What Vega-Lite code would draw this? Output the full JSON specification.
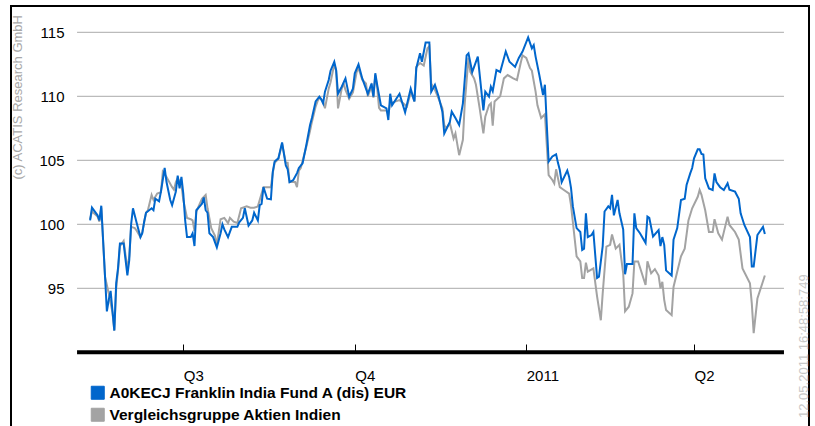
{
  "$schema": "https://vega.github.io/schema/vega-lite/v6.json",
  "width": 798,
  "height": 421,
  "autosize": "none",
  "padding": {"left": 11, "top": 6, "right": 6, "bottom": 0},
  "background": "white",
  "config": {"font": "Liberation Sans", "view": {"stroke": "#000000", "strokeWidth": 2}},
  "datasets": {
    "grid": [{"v": 95}, {"v": 100}, {"v": 105}, {"v": 110}, {"v": 115}],
    "fund": [
      {"date": "2010-05-12", "value": 100.3}, {"date": "2010-05-13", "value": 101.3}, {"date": "2010-05-16", "value": 100.7}, {"date": "2010-05-17", "value": 100.3}, {"date": "2010-05-18", "value": 101.45},
      {"date": "2010-05-21", "value": 93.2}, {"date": "2010-05-22", "value": 94.1}, {"date": "2010-05-23", "value": 94.8}, {"date": "2010-05-25", "value": 91.7}, {"date": "2010-05-26", "value": 95.4},
      {"date": "2010-05-27", "value": 96.6}, {"date": "2010-05-28", "value": 98.5}, {"date": "2010-05-30", "value": 98.5}, {"date": "2010-06-01", "value": 96.0}, {"date": "2010-06-02", "value": 97.2},
      {"date": "2010-06-03", "value": 100.0}, {"date": "2010-06-04", "value": 101.25}, {"date": "2010-06-06", "value": 100.1}, {"date": "2010-06-08", "value": 99.0}, {"date": "2010-06-09", "value": 99.3},
      {"date": "2010-06-10", "value": 100.2}, {"date": "2010-06-11", "value": 100.9}, {"date": "2010-06-14", "value": 101.25}, {"date": "2010-06-15", "value": 101.1}, {"date": "2010-06-16", "value": 102.0},
      {"date": "2010-06-18", "value": 101.8}, {"date": "2010-06-19", "value": 102.55}, {"date": "2010-06-21", "value": 104.4}, {"date": "2010-06-22", "value": 103.3}, {"date": "2010-06-24", "value": 101.9},
      {"date": "2010-06-25", "value": 101.5}, {"date": "2010-06-27", "value": 102.55}, {"date": "2010-06-28", "value": 103.8}, {"date": "2010-06-29", "value": 102.8}, {"date": "2010-06-30", "value": 103.7},
      {"date": "2010-07-01", "value": 102.4}, {"date": "2010-07-02", "value": 100.3}, {"date": "2010-07-03", "value": 99.0}, {"date": "2010-07-05", "value": 99.0}, {"date": "2010-07-06", "value": 99.3},
      {"date": "2010-07-07", "value": 98.3}, {"date": "2010-07-08", "value": 101.1}, {"date": "2010-07-11", "value": 101.6}, {"date": "2010-07-12", "value": 102.1}, {"date": "2010-07-13", "value": 101.1},
      {"date": "2010-07-14", "value": 100.9}, {"date": "2010-07-15", "value": 99.3}, {"date": "2010-07-17", "value": 99.0}, {"date": "2010-07-19", "value": 98.2}, {"date": "2010-07-21", "value": 99.3},
      {"date": "2010-07-22", "value": 100.0}, {"date": "2010-07-23", "value": 99.6}, {"date": "2010-07-25", "value": 99.0}, {"date": "2010-07-27", "value": 99.8}, {"date": "2010-07-30", "value": 99.8},
      {"date": "2010-07-31", "value": 100.15}, {"date": "2010-08-02", "value": 100.5}, {"date": "2010-08-03", "value": 101.25}, {"date": "2010-08-05", "value": 99.9}, {"date": "2010-08-07", "value": 100.3},
      {"date": "2010-08-08", "value": 100.9}, {"date": "2010-08-10", "value": 100.3}, {"date": "2010-08-11", "value": 101.5}, {"date": "2010-08-12", "value": 101.6}, {"date": "2010-08-13", "value": 102.9},
      {"date": "2010-08-15", "value": 102.0}, {"date": "2010-08-17", "value": 101.95}, {"date": "2010-08-18", "value": 104.1}, {"date": "2010-08-19", "value": 104.9}, {"date": "2010-08-21", "value": 105.15},
      {"date": "2010-08-23", "value": 106.4}, {"date": "2010-08-25", "value": 104.6}, {"date": "2010-08-26", "value": 104.3}, {"date": "2010-08-27", "value": 103.3}, {"date": "2010-08-29", "value": 103.46},
      {"date": "2010-08-31", "value": 104.0}, {"date": "2010-09-01", "value": 104.4}, {"date": "2010-09-03", "value": 104.77}, {"date": "2010-09-05", "value": 106.2}, {"date": "2010-09-07", "value": 107.76},
      {"date": "2010-09-08", "value": 108.3}, {"date": "2010-09-10", "value": 109.6}, {"date": "2010-09-12", "value": 109.97}, {"date": "2010-09-13", "value": 109.77}, {"date": "2010-09-14", "value": 109.45},
      {"date": "2010-09-15", "value": 110.36}, {"date": "2010-09-17", "value": 111.27}, {"date": "2010-09-18", "value": 112.0}, {"date": "2010-09-20", "value": 112.7}, {"date": "2010-09-21", "value": 112.05},
      {"date": "2010-09-22", "value": 110.2}, {"date": "2010-09-24", "value": 110.75}, {"date": "2010-09-26", "value": 111.4}, {"date": "2010-09-28", "value": 109.97}, {"date": "2010-09-30", "value": 110.6},
      {"date": "2010-10-01", "value": 111.8}, {"date": "2010-10-03", "value": 112.5}, {"date": "2010-10-05", "value": 111.4}, {"date": "2010-10-08", "value": 110.2}, {"date": "2010-10-10", "value": 111.0},
      {"date": "2010-10-11", "value": 109.97}, {"date": "2010-10-12", "value": 111.8}, {"date": "2010-10-13", "value": 110.9}, {"date": "2010-10-15", "value": 109.3}, {"date": "2010-10-18", "value": 109.06},
      {"date": "2010-10-19", "value": 108.15}, {"date": "2010-10-20", "value": 110.2}, {"date": "2010-10-21", "value": 109.3}, {"date": "2010-10-25", "value": 110.2}, {"date": "2010-10-28", "value": 108.75},
      {"date": "2010-10-31", "value": 110.6}, {"date": "2010-11-02", "value": 109.6}, {"date": "2010-11-03", "value": 112.2}, {"date": "2010-11-05", "value": 113.36}, {"date": "2010-11-06", "value": 112.7},
      {"date": "2010-11-08", "value": 114.2}, {"date": "2010-11-10", "value": 114.2}, {"date": "2010-11-11", "value": 110.36}, {"date": "2010-11-13", "value": 110.9}, {"date": "2010-11-15", "value": 109.97},
      {"date": "2010-11-17", "value": 108.8}, {"date": "2010-11-18", "value": 107.1}, {"date": "2010-11-21", "value": 108.0}, {"date": "2010-11-22", "value": 108.8}, {"date": "2010-11-24", "value": 108.3},
      {"date": "2010-11-26", "value": 107.76}, {"date": "2010-11-28", "value": 109.45}, {"date": "2010-11-30", "value": 113.2}, {"date": "2010-12-01", "value": 113.36}, {"date": "2010-12-03", "value": 111.9},
      {"date": "2010-12-06", "value": 113.1}, {"date": "2010-12-09", "value": 108.9}, {"date": "2010-12-10", "value": 110.36}, {"date": "2010-12-12", "value": 109.97}, {"date": "2010-12-13", "value": 110.75},
      {"date": "2010-12-14", "value": 110.4}, {"date": "2010-12-16", "value": 112.05}, {"date": "2010-12-18", "value": 111.9}, {"date": "2010-12-21", "value": 113.5}, {"date": "2010-12-23", "value": 112.7},
      {"date": "2010-12-26", "value": 112.3}, {"date": "2010-12-28", "value": 113.0}, {"date": "2010-12-30", "value": 113.5}, {"date": "2011-01-02", "value": 114.6}, {"date": "2011-01-04", "value": 113.75},
      {"date": "2011-01-05", "value": 114.0}, {"date": "2011-01-06", "value": 113.1}, {"date": "2011-01-08", "value": 111.66}, {"date": "2011-01-10", "value": 110.1}, {"date": "2011-01-11", "value": 110.9},
      {"date": "2011-01-12", "value": 107.8}, {"date": "2011-01-13", "value": 104.9}, {"date": "2011-01-15", "value": 105.3}, {"date": "2011-01-17", "value": 105.47}, {"date": "2011-01-18", "value": 104.8},
      {"date": "2011-01-19", "value": 104.24}, {"date": "2011-01-20", "value": 103.3}, {"date": "2011-01-23", "value": 104.2}, {"date": "2011-01-24", "value": 103.7}, {"date": "2011-01-25", "value": 102.85},
      {"date": "2011-01-26", "value": 101.4}, {"date": "2011-01-28", "value": 99.7}, {"date": "2011-01-30", "value": 99.4}, {"date": "2011-01-31", "value": 98.0}, {"date": "2011-02-01", "value": 98.1},
      {"date": "2011-02-02", "value": 100.86}, {"date": "2011-02-03", "value": 99.0}, {"date": "2011-02-05", "value": 99.16}, {"date": "2011-02-06", "value": 99.4}, {"date": "2011-02-08", "value": 95.8},
      {"date": "2011-02-09", "value": 95.9}, {"date": "2011-02-11", "value": 98.3}, {"date": "2011-02-12", "value": 101.0}, {"date": "2011-02-14", "value": 101.4}, {"date": "2011-02-15", "value": 101.25},
      {"date": "2011-02-16", "value": 102.3}, {"date": "2011-02-17", "value": 100.7}, {"date": "2011-02-19", "value": 101.9}, {"date": "2011-02-20", "value": 100.86}, {"date": "2011-02-22", "value": 99.6},
      {"date": "2011-02-23", "value": 96.1}, {"date": "2011-02-24", "value": 96.9}, {"date": "2011-02-27", "value": 96.9}, {"date": "2011-02-28", "value": 100.86}, {"date": "2011-03-01", "value": 99.7},
      {"date": "2011-03-03", "value": 99.3}, {"date": "2011-03-06", "value": 98.55}, {"date": "2011-03-07", "value": 100.6}, {"date": "2011-03-08", "value": 100.5}, {"date": "2011-03-10", "value": 99.05},
      {"date": "2011-03-13", "value": 99.55}, {"date": "2011-03-14", "value": 98.3}, {"date": "2011-03-15", "value": 99.0}, {"date": "2011-03-16", "value": 98.4}, {"date": "2011-03-17", "value": 96.4},
      {"date": "2011-03-20", "value": 96.0}, {"date": "2011-03-21", "value": 98.8}, {"date": "2011-03-23", "value": 99.7}, {"date": "2011-03-25", "value": 101.9}, {"date": "2011-03-27", "value": 102.0},
      {"date": "2011-03-28", "value": 103.07}, {"date": "2011-03-30", "value": 104.0}, {"date": "2011-03-31", "value": 104.4}, {"date": "2011-04-01", "value": 105.15}, {"date": "2011-04-03", "value": 105.86},
      {"date": "2011-04-04", "value": 105.86}, {"date": "2011-04-05", "value": 105.5}, {"date": "2011-04-06", "value": 105.45}, {"date": "2011-04-07", "value": 103.6}, {"date": "2011-04-09", "value": 102.8},
      {"date": "2011-04-11", "value": 102.68}, {"date": "2011-04-12", "value": 103.98}, {"date": "2011-04-13", "value": 103.3}, {"date": "2011-04-15", "value": 102.9}, {"date": "2011-04-17", "value": 102.68},
      {"date": "2011-04-19", "value": 103.2}, {"date": "2011-04-20", "value": 102.7}, {"date": "2011-04-23", "value": 102.55}, {"date": "2011-04-25", "value": 102.0}, {"date": "2011-04-26", "value": 100.86},
      {"date": "2011-04-28", "value": 99.95}, {"date": "2011-05-01", "value": 99.0}, {"date": "2011-05-02", "value": 96.7}, {"date": "2011-05-03", "value": 96.7}, {"date": "2011-05-05", "value": 99.16},
      {"date": "2011-05-08", "value": 99.8}, {"date": "2011-05-09", "value": 99.25}
    ],
    "peer": [
      {"date": "2010-05-12", "value": 100.4}, {"date": "2010-05-13", "value": 101.0}, {"date": "2010-05-16", "value": 100.6}, {"date": "2010-05-17", "value": 100.2}, {"date": "2010-05-18", "value": 101.3},
      {"date": "2010-05-20", "value": 95.9}, {"date": "2010-05-22", "value": 94.6}, {"date": "2010-05-24", "value": 93.1}, {"date": "2010-05-25", "value": 91.7}, {"date": "2010-05-26", "value": 95.0},
      {"date": "2010-05-27", "value": 96.4}, {"date": "2010-05-28", "value": 98.3}, {"date": "2010-05-30", "value": 98.7}, {"date": "2010-06-01", "value": 96.5}, {"date": "2010-06-02", "value": 97.5},
      {"date": "2010-06-03", "value": 99.8}, {"date": "2010-06-05", "value": 99.7}, {"date": "2010-06-06", "value": 99.5}, {"date": "2010-06-08", "value": 99.0}, {"date": "2010-06-09", "value": 99.4},
      {"date": "2010-06-11", "value": 100.9}, {"date": "2010-06-12", "value": 101.1}, {"date": "2010-06-14", "value": 102.3}, {"date": "2010-06-15", "value": 101.9}, {"date": "2010-06-17", "value": 102.4},
      {"date": "2010-06-19", "value": 102.5}, {"date": "2010-06-20", "value": 104.1}, {"date": "2010-06-22", "value": 103.7}, {"date": "2010-06-25", "value": 102.9}, {"date": "2010-06-26", "value": 102.7},
      {"date": "2010-06-27", "value": 103.3}, {"date": "2010-06-28", "value": 103.6}, {"date": "2010-06-30", "value": 103.1}, {"date": "2010-07-01", "value": 101.9}, {"date": "2010-07-03", "value": 100.5},
      {"date": "2010-07-05", "value": 100.4}, {"date": "2010-07-06", "value": 100.3}, {"date": "2010-07-07", "value": 99.5}, {"date": "2010-07-08", "value": 101.0}, {"date": "2010-07-11", "value": 102.0},
      {"date": "2010-07-13", "value": 102.3}, {"date": "2010-07-14", "value": 101.25}, {"date": "2010-07-16", "value": 99.7}, {"date": "2010-07-18", "value": 99.1}, {"date": "2010-07-19", "value": 98.4},
      {"date": "2010-07-21", "value": 100.4}, {"date": "2010-07-23", "value": 100.5}, {"date": "2010-07-25", "value": 100.1}, {"date": "2010-07-26", "value": 100.5}, {"date": "2010-07-28", "value": 100.2},
      {"date": "2010-07-30", "value": 100.1}, {"date": "2010-08-01", "value": 101.25}, {"date": "2010-08-04", "value": 101.4}, {"date": "2010-08-06", "value": 101.3}, {"date": "2010-08-08", "value": 101.3},
      {"date": "2010-08-10", "value": 101.4}, {"date": "2010-08-13", "value": 102.9}, {"date": "2010-08-16", "value": 102.9}, {"date": "2010-08-17", "value": 102.9}, {"date": "2010-08-18", "value": 104.0},
      {"date": "2010-08-19", "value": 104.8}, {"date": "2010-08-21", "value": 105.1}, {"date": "2010-08-23", "value": 106.3}, {"date": "2010-08-25", "value": 104.8}, {"date": "2010-08-26", "value": 104.8},
      {"date": "2010-08-27", "value": 103.3}, {"date": "2010-08-30", "value": 103.3}, {"date": "2010-08-31", "value": 102.9}, {"date": "2010-09-01", "value": 104.2}, {"date": "2010-09-02", "value": 104.4},
      {"date": "2010-09-05", "value": 106.06}, {"date": "2010-09-07", "value": 107.3}, {"date": "2010-09-08", "value": 108.0}, {"date": "2010-09-10", "value": 109.2}, {"date": "2010-09-11", "value": 109.6},
      {"date": "2010-09-12", "value": 109.9}, {"date": "2010-09-14", "value": 109.6}, {"date": "2010-09-15", "value": 109.06}, {"date": "2010-09-17", "value": 110.6}, {"date": "2010-09-18", "value": 111.1},
      {"date": "2010-09-20", "value": 112.5}, {"date": "2010-09-21", "value": 112.0}, {"date": "2010-09-22", "value": 109.06}, {"date": "2010-09-24", "value": 110.6}, {"date": "2010-09-25", "value": 111.0},
      {"date": "2010-09-26", "value": 110.5}, {"date": "2010-09-28", "value": 109.8}, {"date": "2010-09-30", "value": 110.3}, {"date": "2010-10-02", "value": 111.9}, {"date": "2010-10-03", "value": 112.2},
      {"date": "2010-10-05", "value": 111.3}, {"date": "2010-10-07", "value": 111.0}, {"date": "2010-10-08", "value": 110.0}, {"date": "2010-10-10", "value": 110.8}, {"date": "2010-10-11", "value": 109.9},
      {"date": "2010-10-12", "value": 111.66}, {"date": "2010-10-13", "value": 110.7}, {"date": "2010-10-14", "value": 109.1}, {"date": "2010-10-15", "value": 108.9}, {"date": "2010-10-18", "value": 108.9},
      {"date": "2010-10-19", "value": 108.6}, {"date": "2010-10-20", "value": 109.45}, {"date": "2010-10-23", "value": 109.6}, {"date": "2010-10-25", "value": 109.7}, {"date": "2010-10-29", "value": 109.2},
      {"date": "2010-10-31", "value": 110.3}, {"date": "2010-11-01", "value": 110.0}, {"date": "2010-11-02", "value": 109.6}, {"date": "2010-11-03", "value": 112.3}, {"date": "2010-11-05", "value": 112.6},
      {"date": "2010-11-07", "value": 112.4}, {"date": "2010-11-09", "value": 113.75}, {"date": "2010-11-10", "value": 113.9}, {"date": "2010-11-11", "value": 111.0}, {"date": "2010-11-13", "value": 110.5},
      {"date": "2010-11-15", "value": 109.8}, {"date": "2010-11-17", "value": 109.06}, {"date": "2010-11-18", "value": 107.76}, {"date": "2010-11-19", "value": 107.5}, {"date": "2010-11-21", "value": 107.9},
      {"date": "2010-11-23", "value": 106.7}, {"date": "2010-11-24", "value": 107.1}, {"date": "2010-11-26", "value": 105.4}, {"date": "2010-11-28", "value": 106.6}, {"date": "2010-11-29", "value": 109.45},
      {"date": "2010-12-01", "value": 113.0}, {"date": "2010-12-02", "value": 111.9}, {"date": "2010-12-04", "value": 111.4}, {"date": "2010-12-05", "value": 110.9}, {"date": "2010-12-07", "value": 109.06},
      {"date": "2010-12-09", "value": 107.1}, {"date": "2010-12-10", "value": 108.4}, {"date": "2010-12-12", "value": 109.3}, {"date": "2010-12-13", "value": 109.45}, {"date": "2010-12-14", "value": 107.7},
      {"date": "2010-12-15", "value": 109.6}, {"date": "2010-12-18", "value": 110.0}, {"date": "2010-12-20", "value": 111.4}, {"date": "2010-12-22", "value": 111.66}, {"date": "2010-12-25", "value": 111.4},
      {"date": "2010-12-27", "value": 111.27}, {"date": "2010-12-29", "value": 112.6}, {"date": "2010-12-30", "value": 113.2}, {"date": "2011-01-01", "value": 113.0}, {"date": "2011-01-03", "value": 112.2},
      {"date": "2011-01-04", "value": 112.0}, {"date": "2011-01-06", "value": 110.36}, {"date": "2011-01-07", "value": 109.3}, {"date": "2011-01-09", "value": 108.3}, {"date": "2011-01-11", "value": 108.6},
      {"date": "2011-01-12", "value": 106.2}, {"date": "2011-01-13", "value": 103.85}, {"date": "2011-01-15", "value": 103.46}, {"date": "2011-01-16", "value": 103.2}, {"date": "2011-01-17", "value": 104.3},
      {"date": "2011-01-19", "value": 102.9}, {"date": "2011-01-21", "value": 102.7}, {"date": "2011-01-24", "value": 102.4}, {"date": "2011-01-25", "value": 101.5}, {"date": "2011-01-28", "value": 97.5},
      {"date": "2011-01-30", "value": 97.1}, {"date": "2011-01-31", "value": 95.8}, {"date": "2011-02-01", "value": 95.8}, {"date": "2011-02-02", "value": 97.0}, {"date": "2011-02-03", "value": 96.3},
      {"date": "2011-02-06", "value": 96.56}, {"date": "2011-02-08", "value": 94.35}, {"date": "2011-02-10", "value": 92.5}, {"date": "2011-02-11", "value": 94.6}, {"date": "2011-02-13", "value": 98.25},
      {"date": "2011-02-15", "value": 98.4}, {"date": "2011-02-16", "value": 99.2}, {"date": "2011-02-18", "value": 98.1}, {"date": "2011-02-20", "value": 98.4}, {"date": "2011-02-22", "value": 96.17},
      {"date": "2011-02-23", "value": 93.2}, {"date": "2011-02-25", "value": 93.56}, {"date": "2011-02-27", "value": 94.6}, {"date": "2011-02-28", "value": 97.1}, {"date": "2011-03-02", "value": 97.1},
      {"date": "2011-03-06", "value": 95.26}, {"date": "2011-03-07", "value": 97.1}, {"date": "2011-03-09", "value": 96.17}, {"date": "2011-03-11", "value": 96.5}, {"date": "2011-03-13", "value": 96.0},
      {"date": "2011-03-14", "value": 95.0}, {"date": "2011-03-15", "value": 95.5}, {"date": "2011-03-16", "value": 94.1}, {"date": "2011-03-17", "value": 93.3}, {"date": "2011-03-20", "value": 92.9},
      {"date": "2011-03-21", "value": 95.1}, {"date": "2011-03-25", "value": 97.5}, {"date": "2011-03-27", "value": 98.1}, {"date": "2011-03-29", "value": 100.3}, {"date": "2011-03-31", "value": 101.25},
      {"date": "2011-04-03", "value": 102.15}, {"date": "2011-04-04", "value": 102.68}, {"date": "2011-04-05", "value": 102.3}, {"date": "2011-04-07", "value": 101.1}, {"date": "2011-04-09", "value": 99.4},
      {"date": "2011-04-11", "value": 99.4}, {"date": "2011-04-12", "value": 100.4}, {"date": "2011-04-14", "value": 99.3}, {"date": "2011-04-16", "value": 98.8}, {"date": "2011-04-19", "value": 100.6},
      {"date": "2011-04-20", "value": 99.95}, {"date": "2011-04-23", "value": 99.4}, {"date": "2011-04-25", "value": 98.8}, {"date": "2011-04-27", "value": 96.56}, {"date": "2011-05-01", "value": 95.4},
      {"date": "2011-05-02", "value": 93.8}, {"date": "2011-05-03", "value": 91.5}, {"date": "2011-05-05", "value": 94.2}, {"date": "2011-05-07", "value": 95.1}, {"date": "2011-05-09", "value": 96.0}
    ]
  },
  "layer": [
    {
      "data": {"name": "fund"},
      "mark": {"type": "line", "strokeWidth": 0, "opacity": 0},
      "encoding": {
        "x": {
          "field": "date", "type": "temporal",
          "scale": {"type": "utc", "domain": [{"year": 2010, "month": 3, "date": 30, "hours": 13, "minutes": 32, "utc": true}, {"year": 2011, "month": 6, "date": 1, "hours": 16, "minutes": 19, "utc": true}]},
          "axis": {
            "orient": "bottom", "offset": -75, "title": null, "domain": false, "grid": false,
            "values": [{"year": 2010, "month": 7, "date": 1, "utc": true}, {"year": 2010, "month": 10, "date": 1, "utc": true}, {"year": 2011, "month": 1, "date": 1, "utc": true}, {"year": 2011, "month": 4, "date": 1, "utc": true}],
            "labelExpr": "utcmonth(datum.value) == 0 ? utcFormat(datum.value, '%Y') : 'Q' + (floor(utcmonth(datum.value) / 3) + 1)",
            "ticks": true, "tickSize": -8, "tickColor": "#000000", "tickWidth": 1,
            "labelAlign": "left", "labelPadding": 24, "labelFontSize": 15, "labelColor": "#000000",
            "labelFlush": false, "labelOverlap": false
          }
        },
        "y": {
          "field": "value", "type": "quantitative",
          "scale": {"domain": [84.164, 117.055], "nice": false, "zero": false},
          "axis": {
            "orient": "left", "offset": -66, "title": null, "domain": false, "grid": false, "ticks": false,
            "values": [95, 100, 105, 110, 115], "labelPadding": 13, "labelFontSize": 15, "labelColor": "#000000"
          }
        }
      }
    },
    {
      "data": {"name": "grid"},
      "mark": {"type": "rule", "color": "#aaaaaa", "strokeWidth": 1},
      "encoding": {
        "x": {"datum": {"year": 2010, "month": 5, "date": 5, "utc": true}, "type": "temporal"},
        "x2": {"datum": {"year": 2011, "month": 5, "date": 19, "hours": 6, "utc": true}},
        "y": {"field": "v", "type": "quantitative"}
      }
    },
    {
      "data": {"values": [{}]},
      "mark": {"type": "rule", "color": "#000000", "strokeWidth": 4},
      "encoding": {
        "x": {"datum": {"year": 2010, "month": 5, "date": 5, "utc": true}, "type": "temporal"},
        "x2": {"datum": {"year": 2011, "month": 5, "date": 19, "hours": 6, "utc": true}},
        "y": {"datum": 90, "type": "quantitative"}
      }
    },
    {
      "data": {"name": "peer"},
      "mark": {"type": "line", "strokeWidth": 2},
      "encoding": {
        "x": {"field": "date", "type": "temporal"},
        "y": {"field": "value", "type": "quantitative"},
        "color": {"datum": "Vergleichsgruppe Aktien Indien", "type": "nominal"}
      }
    },
    {
      "data": {"name": "fund"},
      "mark": {"type": "line", "strokeWidth": 2},
      "encoding": {
        "x": {"field": "date", "type": "temporal"},
        "y": {"field": "value", "type": "quantitative"},
        "color": {
          "datum": "A0KECJ Franklin India Fund A (dis) EUR", "type": "nominal",
          "scale": {"domain": ["A0KECJ Franklin India Fund A (dis) EUR", "Vergleichsgruppe Aktien Indien"], "range": ["#0066cc", "#a3a3a3"]},
          "legend": {
            "orient": "none", "legendX": 79, "legendY": 379, "title": null, "direction": "vertical",
            "symbolType": "square", "symbolSize": 169, "symbolStrokeWidth": 1,
            "labelFontSize": 15.5, "labelFontWeight": "bold", "labelColor": "#000000", "labelLimit": 600,
            "rowPadding": 4, "labelOffset": 4,
            "encode": {"symbols": {"update": {"fill": {"scale": "color", "field": "value"}, "stroke": {"value": "#000000"}, "strokeWidth": {"value": 1}, "opacity": {"value": 1}}}}
          }
        }
      }
    },
    {
      "data": {"values": [{}]},
      "mark": {"type": "text", "angle": 270, "align": "left", "baseline": "middle", "fontSize": 13, "color": "#a8a8a8", "text": "(c) ACATIS Research GmbH"},
      "encoding": {
        "x": {"datum": {"year": 2010, "month": 4, "date": 3, "hours": 8, "utc": true}, "type": "temporal"},
        "y": {"datum": 103.5, "type": "quantitative"}
      }
    },
    {
      "data": {"values": [{}]},
      "mark": {"type": "text", "angle": 270, "align": "left", "baseline": "middle", "fontSize": 13, "color": "#c8c8c8", "text": "12.05.2011 16:48:58:749"},
      "encoding": {
        "x": {"datum": {"year": 2011, "month": 5, "date": 30, "hours": 2, "utc": true}, "type": "temporal"},
        "y": {"datum": 84.87, "type": "quantitative"}
      }
    }
  ]
}
